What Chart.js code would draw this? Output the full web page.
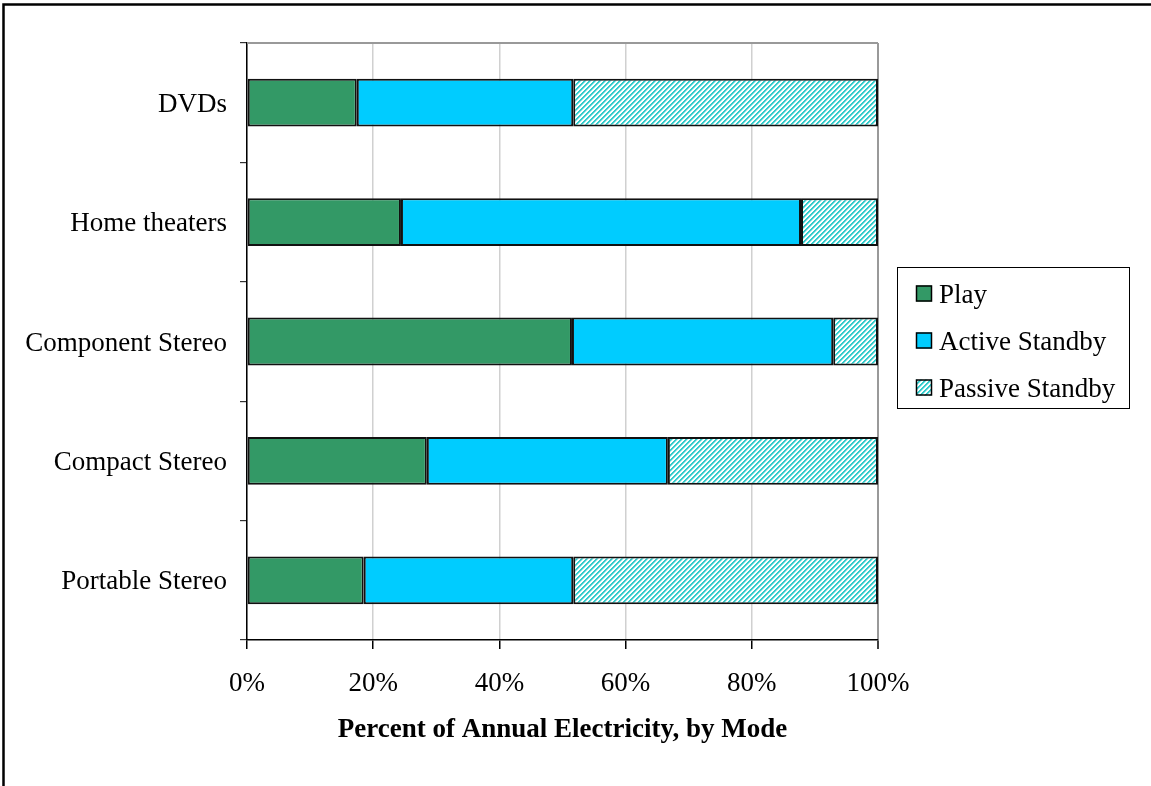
<!DOCTYPE html>
<html>
<head>
<meta charset="utf-8">
<style>
  html, body { margin: 0; padding: 0; background: #ffffff; }
  canvas { display: block; }
</style>
<script src="https://cdn.jsdelivr.net/npm/chart.js@4/dist/chart.umd.min.js"></script>
</head>
<body>
<canvas id="chart" width="1151" height="786"></canvas>
<script>
// Product categories (top to bottom) and the share of annual electricity per mode, in percent
const categories = ['DVDs', 'Home theaters', 'Component Stereo', 'Compact Stereo', 'Portable Stereo'];
const playShare = [17.4, 24.4, 51.5, 28.5, 18.5];
const activeStandbyShare = [34.3, 63.4, 41.4, 38.2, 33.2];
const passiveStandbyShare = [48.3, 12.2, 7.1, 33.3, 48.3];
const seriesNames = ['Play', 'Active Standby', 'Passive Standby'];
const xTickValues = [0, 20, 40, 60, 80, 100];
const xTitle = 'Percent of Annual Electricity, by Mode';

const FONT = "'Liberation Serif', 'Times New Roman', serif";

// Diagonal teal-on-white hatch used for passive standby
function makeHatch() {
  const n = 5;
  const tile = document.createElement('canvas');
  tile.width = n; tile.height = n;
  const c = tile.getContext('2d');
  c.fillStyle = '#ffffff';
  c.fillRect(0, 0, n, n);
  for (let i = 0; i < n; i++) {
    c.fillStyle = '#33cccc';
    c.fillRect(i, (n - 1 - i) % n, 1, 1);
    c.fillRect(i, (n - i) % n, 1, 1);
    c.fillStyle = '#9fe6e6';
    c.fillRect(i, (n + 1 - i) % n, 1, 1);
  }
  return c.createPattern(tile, 'repeat');
}

const ctx = document.getElementById('chart').getContext('2d');
const hatch = makeHatch();
const fills = ['#339966', '#00ccff', hatch];

// Outer frame, plot-area top edge and the boxed legend
const decorations = {
  id: 'decorations',
  afterDraw(chart) {
    const g = chart.ctx;
    const a = chart.chartArea;
    g.save();
    // plot top border
    g.strokeStyle = '#999999';
    g.lineWidth = 2;
    g.beginPath();
    g.moveTo(a.left, a.top);
    g.lineTo(a.right, a.top);
    g.stroke();

    // frame: top and left edges
    g.strokeStyle = '#000000';
    g.lineWidth = 2.5;
    g.beginPath();
    g.moveTo(3.5, chart.height);
    g.lineTo(3.5, 4.5);
    g.lineTo(chart.width, 4.5);
    g.stroke();

    // legend box
    const bx = 897.5, by = 267.5, bw = 232, bh = 141;
    g.fillStyle = '#ffffff';
    g.fillRect(bx, by, bw, bh);
    g.strokeStyle = '#000000';
    g.lineWidth = 1;
    g.strokeRect(bx, by, bw, bh);
    const rows = [293.5, 340.5, 387.5];
    g.font = '27px ' + FONT;
    g.textBaseline = 'middle';
    g.textAlign = 'left';
    chart.data.datasets.forEach((ds, i) => {
      const cy = rows[i];
      g.fillStyle = ds.backgroundColor;
      g.fillRect(916, cy - 8, 16, 16);
      g.strokeStyle = '#000000';
      g.lineWidth = 1.5;
      g.strokeRect(916.5, cy - 7.5, 15, 15);
      g.fillStyle = '#000000';
      g.fillText(ds.label, 939, cy + 2);
    });
    g.restore();
  }
};

const datasetValues = [playShare, activeStandbyShare, passiveStandbyShare];

new Chart(ctx, {
  type: 'bar',
  data: {
    labels: categories,
    datasets: seriesNames.map((name, i) => ({
      label: name,
      data: datasetValues[i],
      backgroundColor: fills[i],
      borderColor: '#111111',
      borderWidth: 2,
      borderSkipped: false,
      barPercentage: 0.4,
      categoryPercentage: 1.0
    }))
  },
  options: {
    indexAxis: 'y',
    responsive: false,
    animation: false,
    devicePixelRatio: 1,
    layout: { padding: { top: 43, right: 273, left: 0, bottom: 0 } },
    plugins: {
      legend: { display: false },
      title: { display: false },
      tooltip: { enabled: false }
    },
    scales: {
      x: {
        stacked: true,
        min: 0,
        max: 100,
        afterBuildTicks(scale) {
          scale.ticks = xTickValues.map(v => ({ value: v }));
        },
        afterFit(scale) { scale.height = 146; },
        grid: {
          color: c => (c.tick && c.tick.value === 100) ? '#999999' : '#d0d0d0',
          lineWidth: c => (c.tick && c.tick.value === 100) ? 2 : 1.5,
          tickColor: '#000000',
          tickLength: 9,
          tickWidth: 1.5
        },
        border: { display: true, color: '#000000', width: 1.5 },
        ticks: {
          color: '#000000',
          padding: 19,
          font: { family: FONT, size: 27 },
          callback: v => v + '%',
          maxRotation: 0
        },
        title: {
          display: true,
          text: xTitle,
          color: '#000000',
          font: { family: FONT, size: 27, weight: 'bold' },
          padding: { top: 0, bottom: 40 }
        }
      },
      y: {
        stacked: true,
        afterFit(scale) { scale.width = 247; },
        grid: {
          offset: true,
          drawOnChartArea: false,
          color: '#000000',
          tickColor: '#333333',
          tickLength: 7,
          lineWidth: 1.2
        },
        border: { display: true, color: '#000000', width: 1.5 },
        ticks: {
          color: '#000000',
          padding: 13,
          labelOffset: 2,
          font: { family: FONT, size: 27 }
        }
      }
    }
  },
  plugins: [decorations]
});
</script>
</body>
</html>
